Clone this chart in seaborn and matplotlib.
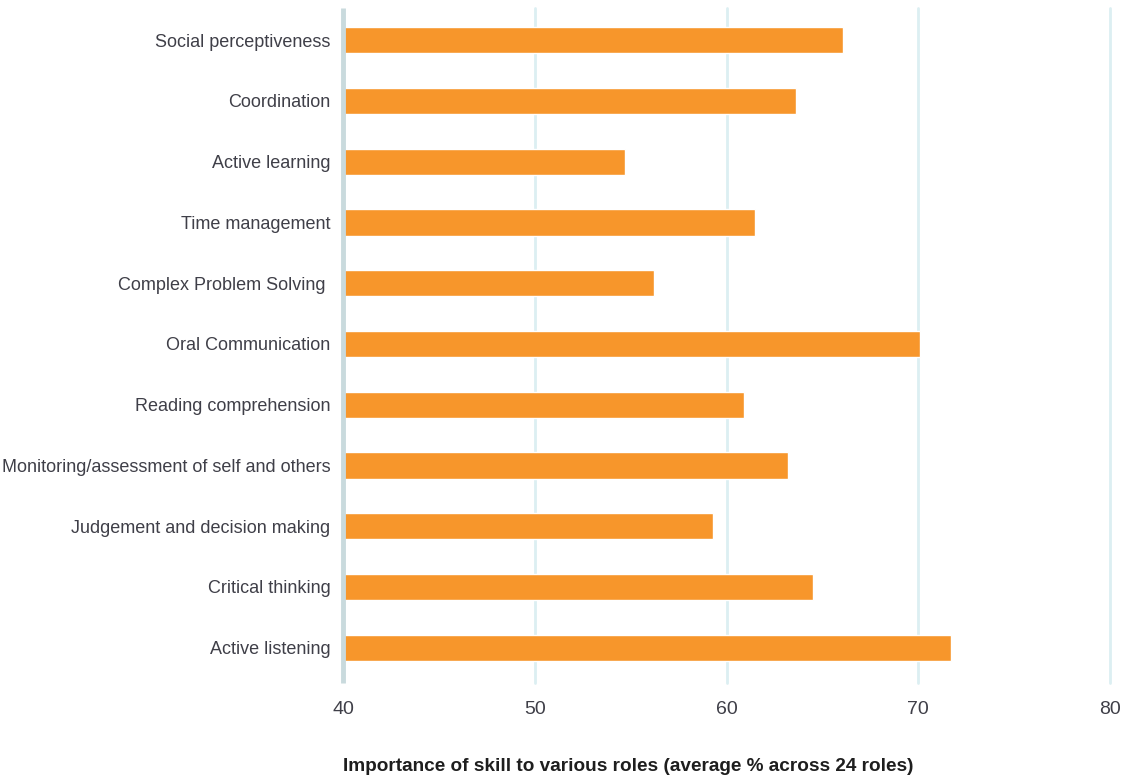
import matplotlib
matplotlib.use("Agg")
import matplotlib.pyplot as plt
import seaborn as sns
import pandas as pd

skills = [
    "Social perceptiveness",
    "Coordination",
    "Active learning",
    "Time management",
    "Complex Problem Solving ",
    "Oral Communication",
    "Reading comprehension",
    "Monitoring/assessment of self and others",
    "Judgement and decision making",
    "Critical thinking",
    "Active listening",
]
values = [66.1, 63.6, 54.7, 61.5, 56.2, 70.1, 60.9, 63.2, 59.3, 64.5, 71.7]
x_ticks = [40, 50, 60, 70, 80]
x_label = "Importance of skill to various roles (average % across 24 roles)"

sns.set_theme(style="white")
plt.rcParams["font.family"] = ["Liberation Sans", "DejaVu Sans"]

df = pd.DataFrame({"skill": skills, "value": values})

fig = plt.figure(figsize=(11.25, 7.77), dpi=100)
ax = fig.add_axes([0.3049, 0.121, 0.6818, 0.8687])

sns.barplot(data=df, x="value", y="skill", orient="h", color="#F7962B",
            saturation=1, width=0.43, ax=ax, zorder=3)

ax.set_xlim(40, 80)
ax.set_ylim(10.58, -0.53)
ax.set_xticks(x_ticks)
ax.set_xticklabels([str(t) for t in x_ticks])
for t in x_ticks[1:]:
    ax.axvline(t, color="#DCEFF2", lw=2, zorder=1, clip_on=False)
ax.axvline(40, color="#C9DADD", lw=3.5, zorder=4, clip_on=False,
           solid_capstyle="butt")

for s in ax.spines.values():
    s.set_visible(False)

ax.tick_params(axis="y", length=0, pad=9, labelsize=12.95, labelcolor="#3F3F48")
ax.tick_params(axis="x", length=0, pad=13, labelsize=14, labelcolor="#3F3F48")
ax.set_ylabel("")
ax.set_xlabel(x_label, fontsize=13.7, fontweight="bold", color="#1E1E1E",
              labelpad=29, loc="left")

fig.savefig("out.png", dpi=100)
